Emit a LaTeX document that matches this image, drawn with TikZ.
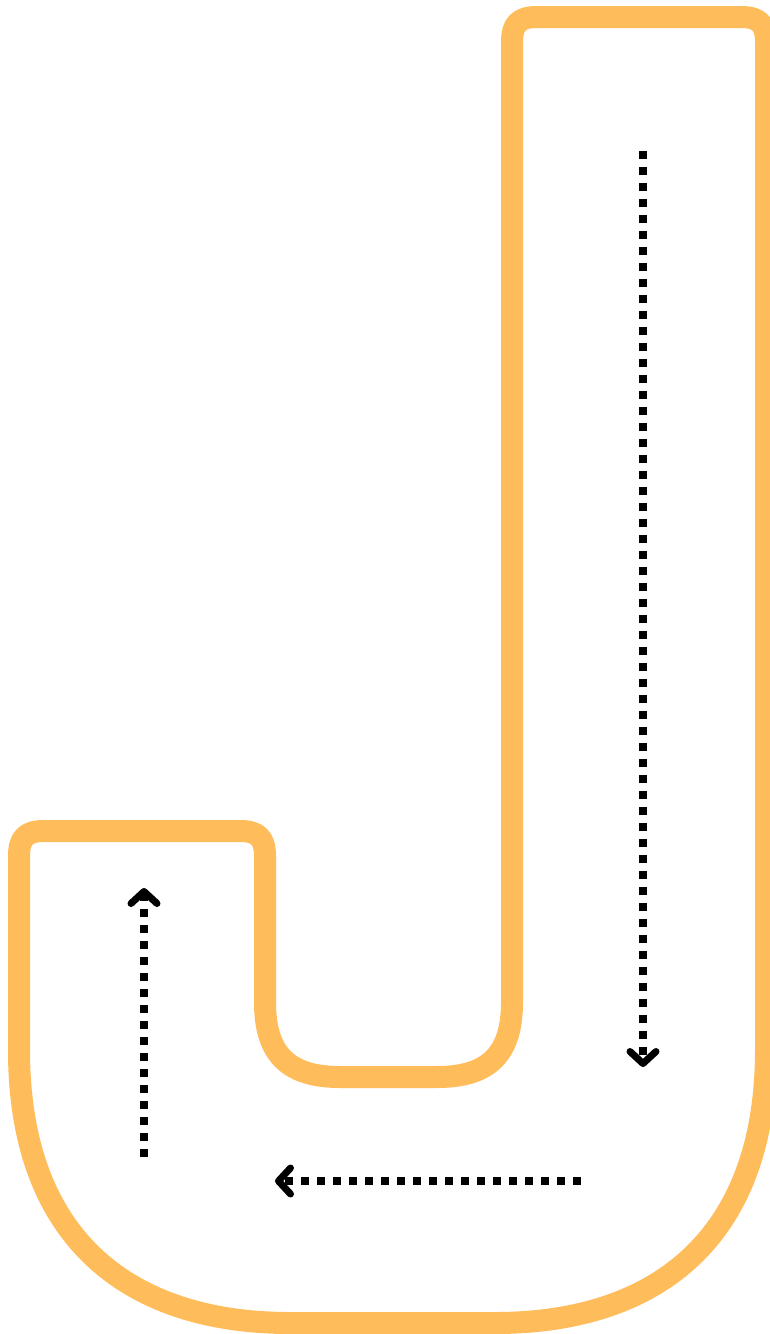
\documentclass[tikz,border=0pt]{standalone}
\usetikzlibrary{arrows.meta}
\definecolor{jorange}{HTML}{FFBC5A}
\tikzset{
  outline/.style={draw=jorange, line width=22pt, line join=round},
  flow/.style={draw=black, line width=8pt, dash pattern=on 8pt off 8pt,
    -{Straight Barb[length=12pt,width=26pt,line width=7pt,round]}},
}
\begin{document}
\begin{tikzpicture}[x=1pt,y=-1pt]
\useasboundingbox (0,0) rectangle (770,1334);
\fill[white] (0,0) rectangle (770,1334);
\path[outline]
  (19,1050) -- (19,856) .. controls (19,838) and (26,831) .. (44,831)
  -- (240,831) .. controls (258,831) and (265,838) .. (265,856)
  -- (265,1002) .. controls (265,1054) and (288,1077) .. (340,1077)
  -- (437,1077) .. controls (489,1077) and (512,1054) .. (512,1002)
  -- (512,42) .. controls (512,24) and (519,17) .. (537,17)
  -- (741,17) .. controls (759,17) and (766,24) .. (766,42)
  -- (766,1050) .. controls (766,1240) and (655,1323) .. (495,1323)
  -- (290,1323) .. controls (130,1323) and (19,1240) .. (19,1050) -- cycle;
\coordinate (rs) at (643,151);
\coordinate (re) at (643,1067);
\coordinate (hs) at (581,1181);
\coordinate (he) at (275,1181);
\coordinate (ls) at (144,1157);
\coordinate (le) at (144,888);
\draw[flow] (rs) -- (re);
\draw[flow] (hs) -- (he);
\draw[flow] (ls) -- (le);
\end{tikzpicture}
\end{document}
